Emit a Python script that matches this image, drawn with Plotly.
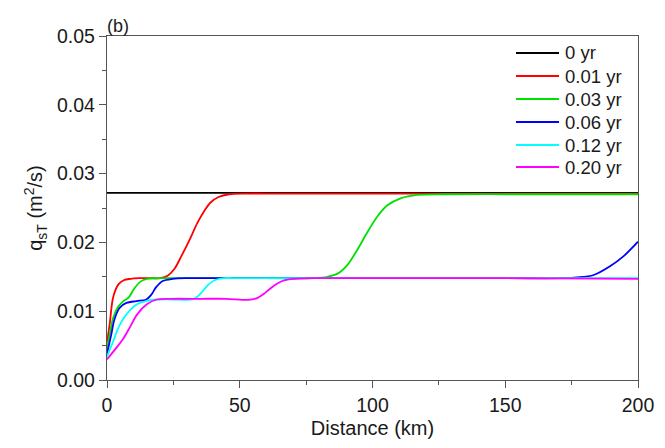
import plotly.graph_objects as go

# ---- data ----
labels = ["0 yr", "0.01 yr", "0.03 yr", "0.06 yr", "0.12 yr", "0.20 yr"]
colors = ["#000000", "#ff0000", "#00e000", "#0000ff", "#00ffff", "#ff00ff"]

x_0 = [0, 200]
y_0 = [0.0272, 0.0272]

x_001 = [0, 1, 2.3, 4.3, 6.3, 8.8, 12, 17, 20, 23, 25.5, 28, 31, 34, 36.7, 39, 42, 46, 52, 60, 100, 150, 200]
y_001 = [0.0055, 0.0081, 0.0120, 0.0139, 0.0145, 0.0147, 0.0148, 0.0148, 0.0148, 0.0152, 0.0162, 0.0180, 0.0203, 0.0228, 0.0246, 0.0258, 0.0266, 0.0270, 0.0271, 0.0271, 0.0271, 0.0271, 0.0271]

x_003 = [0, 1, 2.3, 4.3, 6.3, 8.2, 10.1, 12.6, 15.1, 20, 40, 60, 78, 83, 87, 90.5, 94.4, 98.1, 101.9, 105.6, 110.6, 116.9, 126.9, 150, 200]
y_003 = [0.0045, 0.0066, 0.0090, 0.0107, 0.0115, 0.0120, 0.0132, 0.0143, 0.0147, 0.0148, 0.0148, 0.0148, 0.0148, 0.0150, 0.0155, 0.0167, 0.0190, 0.0215, 0.0238, 0.0254, 0.0264, 0.0269, 0.0270, 0.0270, 0.0270]

x_006 = [0, 1.6, 2.8, 4.8, 7.3, 11.1, 14.8, 16.7, 18.5, 21, 24.8, 30, 60, 100, 150, 172, 177, 183.3, 189.6, 194.6, 200]
y_006 = [0.0038, 0.0066, 0.0088, 0.0105, 0.0112, 0.01147, 0.0117, 0.0124, 0.0135, 0.0144, 0.0147, 0.0148, 0.0148, 0.0148, 0.0148, 0.0148, 0.0149, 0.01526, 0.01657, 0.0180, 0.0201]

x_012 = [0, 2.3, 4.3, 6.3, 8.8, 11.3, 15, 18.8, 25, 32, 34, 36, 38, 40.5, 44, 50, 100, 150, 200]
y_012 = [0.0034, 0.0056, 0.0076, 0.0090, 0.0102, 0.0110, 0.0115, 0.0117, 0.0117, 0.0117, 0.0121, 0.0129, 0.0138, 0.0145, 0.0148, 0.0148, 0.0148, 0.0148, 0.0148]

x_020 = [0, 3.6, 6.3, 8.8, 11.3, 15, 18.8, 23.8, 35, 45, 51, 54, 56.5, 59, 61.5, 64, 67, 71, 77, 100, 150, 200]
y_020 = [0.0030, 0.0047, 0.0061, 0.0078, 0.0095, 0.0110, 0.0117, 0.0118, 0.0118, 0.0118, 0.01165, 0.01168, 0.0119, 0.0125, 0.0133, 0.0140, 0.0145, 0.0147, 0.0148, 0.0148, 0.0148, 0.0147]

series_x = [x_0, x_001, x_003, x_006, x_012, x_020]
series_y = [y_0, y_001, y_003, y_006, y_012, y_020]

x_range = [0, 200]
y_range = [0, 0.05]

FONT = "Liberation Sans, Arial, sans-serif"
TXT = "#1a1a1a"

fig = go.Figure()
for xs, ys, name, c in zip(series_x, series_y, labels, colors):
    fig.add_trace(go.Scatter(
        x=xs, y=ys, mode="lines", name=name, showlegend=False,
        line=dict(color=c, width=1.8, shape="spline", smoothing=0.9),
    ))

axis_common = dict(
    showgrid=False, zeroline=False,
    showline=True, linecolor="#555555", linewidth=1.3, mirror=True,
    ticks="outside", ticklen=7, tickwidth=1.2, tickcolor="#555555",
    tickfont=dict(family=FONT, size=19.5, color=TXT),
)

fig.update_xaxes(
    range=x_range, dtick=50, tick0=0,
    minor=dict(ticks="outside", ticklen=4, dtick=25, tickcolor="#555555", tickwidth=1),
    title=dict(text="Distance (km)", font=dict(family=FONT, size=20, color=TXT), standoff=6),
    **axis_common,
)
fig.update_yaxes(
    range=y_range, dtick=0.01, tick0=0, tickformat=".2f",
    minor=dict(ticks="outside", ticklen=4, dtick=0.005, tickcolor="#555555", tickwidth=1),
    title=dict(text="q<sub>sT</sub> (m<sup>2</sup>/s)", font=dict(family=FONT, size=20, color=TXT), standoff=8),
    **axis_common,
)

# manual legend (paper coordinates of the plot frame 99..630 x 28..372 px)
L, R, T, B = 99, 630, 28, 372
def px_x(p):
    return (p - L) / (R - L)
def px_y(p):
    return 1 - (p - T) / (B - T)

legend_rows = [45, 68, 91, 114, 137, 159]
shapes = []
annotations = []
for name, c, row in zip(labels, colors, legend_rows):
    shapes.append(dict(type="line", xref="paper", yref="paper",
                       x0=px_x(508), x1=px_x(551), y0=px_y(row), y1=px_y(row),
                       line=dict(color=c, width=1.8)))
    annotations.append(dict(text=name, xref="paper", yref="paper",
                            x=px_x(555), y=px_y(row), xanchor="left", yanchor="middle",
                            showarrow=False, font=dict(family=FONT, size=18.5, color=TXT)))

annotations.append(dict(
    text="(b)", x=0, y=1, xref="paper", yref="paper",
    xanchor="left", yanchor="bottom", showarrow=False, yshift=-2, xshift=-2,
    font=dict(family=FONT, size=18, color=TXT),
))

fig.update_layout(
    width=665, height=448,
    margin=dict(l=L, r=665 - R, t=T, b=448 - B),
    paper_bgcolor="white", plot_bgcolor="white",
    showlegend=False,
    shapes=shapes,
    annotations=annotations,
)

fig.write_html("out.html")
